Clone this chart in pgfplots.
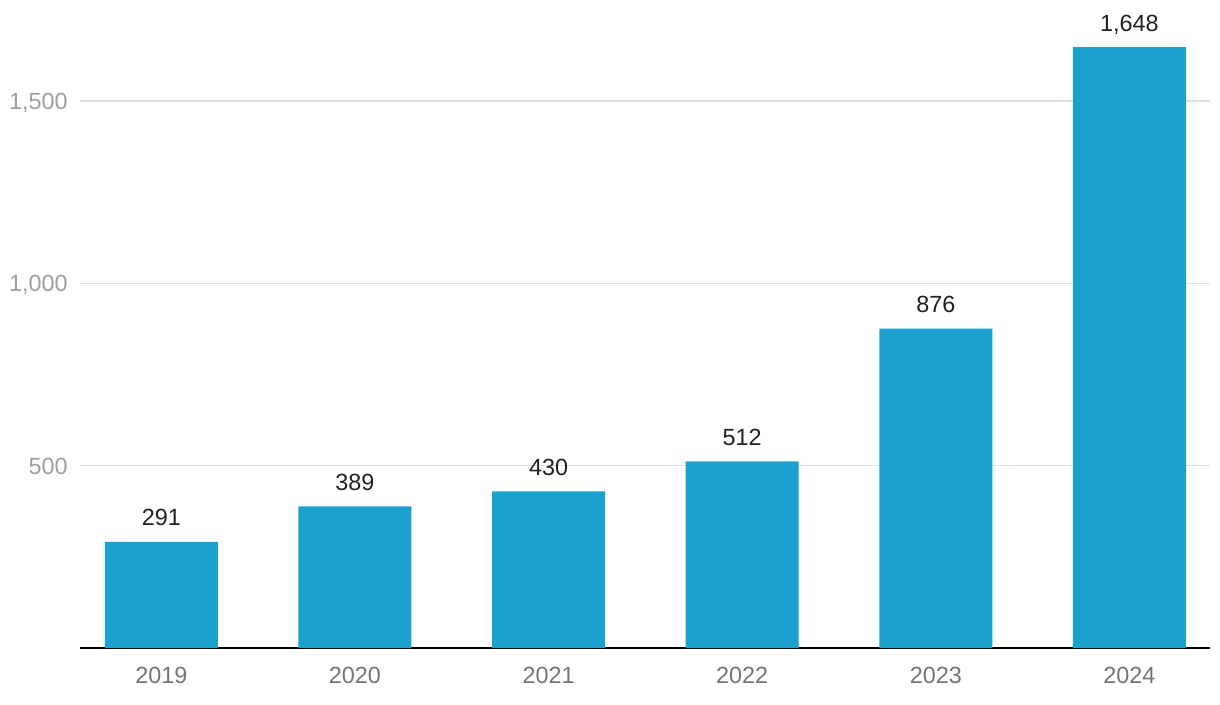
\documentclass[border=0pt]{standalone}
\usepackage{pgfplots}
\pgfplotsset{compat=1.18}
\usepackage{fontspec}
\setmainfont{Liberation Sans}
\definecolor{barblue}{HTML}{1AA1CE}
\definecolor{gridgray}{HTML}{E0E0E0}
\definecolor{ylab}{HTML}{9E9E9E}
\definecolor{xlab}{HTML}{757575}
\definecolor{vlab}{HTML}{212121}
\begin{document}
\fontsize{11.7}{14}\selectfont
\begin{tikzpicture}
\begin{axis}[
  scale only axis=true,
  width=565pt, height=320.9pt,
  xmin=-0.42, xmax=5.416,
  ymin=0, ymax=1760,
  clip=false,
  axis x line*=bottom,
  axis y line*=left,
  x axis line style={black, line width=1pt},
  y axis line style={draw=none},
  major tick length=0pt,
  xtick={0,1,2,3,4,5},
  xticklabels={2019,2020,2021,2022,2023,2024},
  ytick={500,1000,1500},
  ymajorgrids=true,
  grid style={gridgray, line width=0.65pt},
  /pgf/number format/assume math mode=true,
  /pgf/number format/1000 sep={,},
  xticklabel style={anchor=base, inner sep=0pt, yshift=-17.5pt, text=xlab, font=\fontsize{11.7}{14}\selectfont},
  yticklabel style={anchor=base east, inner sep=0pt, xshift=-6pt, yshift=-4.2pt, text=ylab, font=\fontsize{11.7}{14}\selectfont},
  ybar, bar width=56.5pt,
  nodes near coords,
  every node near coord/.append style={anchor=base, inner sep=0pt, yshift=8pt, text=vlab, font=\fontsize{11.7}{14}\selectfont},
]
\addplot[fill=barblue, draw=none] coordinates {(0,291) (1,389) (2,430) (3,512) (4,876) (5,1648)};
\end{axis}
\pgfresetboundingbox
\path[use as bounding box] ([xshift=-40pt,yshift=-28pt]current axis.south west) rectangle ([xshift=5pt,yshift=3.15pt]current axis.north east);
\end{tikzpicture}
\end{document}
